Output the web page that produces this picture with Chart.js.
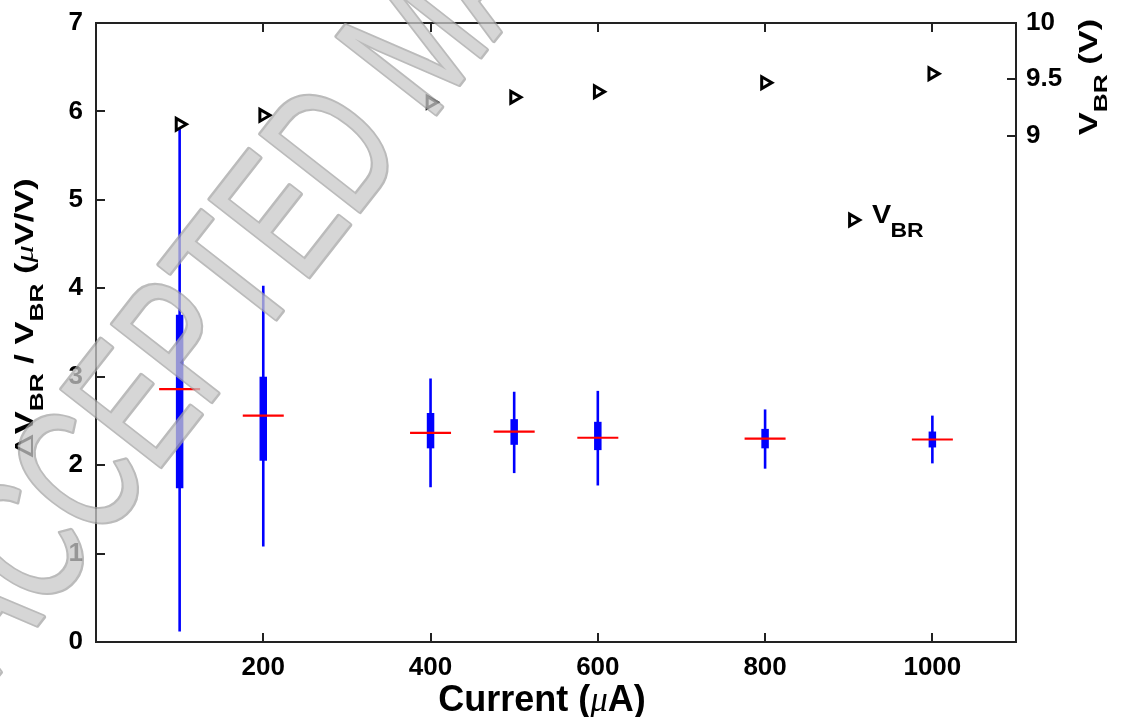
<!DOCTYPE html>
<html><head><meta charset="utf-8">
<script src="https://cdn.jsdelivr.net/npm/chart.js@4.4.1/dist/chart.umd.min.js"></script>
<style>html,body{margin:0;padding:0;background:#fff}#wrap{width:1124px;height:717px}</style>
</head><body><div id="wrap"><canvas id="c" width="1124" height="717"></canvas></div>
<script>
const currents = [100, 200, 400, 500, 600, 800, 1000];
const whiskerLow = [0.12, 1.08, 1.75, 1.91, 1.77, 1.96, 2.02];
const whiskerHigh = [5.85, 4.03, 2.98, 2.83, 2.84, 2.63, 2.56];
const boxLow = [1.74, 2.05, 2.19, 2.23, 2.17, 2.19, 2.20];
const boxHigh = [3.70, 3.00, 2.59, 2.52, 2.49, 2.41, 2.38];
const medians = [2.86, 2.56, 2.365, 2.38, 2.31, 2.30, 2.29];
const vbr = [9.10, 9.18, 9.295, 9.34, 9.39, 9.47, 9.55];
const xTicks = [200, 400, 600, 800, 1000];
const yTicks = [0, 1, 2, 3, 4, 5, 6, 7];
const y1Ticks = [9, 9.5, 10];

const FONT = '"Liberation Sans", Arial, sans-serif';
const tickFont = {family: FONT, size: 26, weight: 'bold'};

function drawRich(ctx, parts, cx, cy, rot, stretch) {
  stretch = stretch || 1;
  ctx.save();
  ctx.translate(cx, cy);
  ctx.rotate(rot);
  ctx.scale(stretch, 1);
  let total = 0;
  parts.forEach(p => { ctx.font = p.f; p.w = ctx.measureText(p.t).width; total += p.w; });
  let x = -total / 2;
  ctx.textBaseline = 'alphabetic';
  ctx.textAlign = 'left';
  ctx.fillStyle = '#000';
  parts.forEach(p => { ctx.font = p.f; ctx.fillText(p.t, x, p.dy || 0); x += p.w; });
  ctx.restore();
}

const B25 = 'bold 25px ' + FONT;
const B19 = 'bold 19px ' + FONT;
const MU = 'italic 25px "Liberation Serif", serif';

function drawWatermark(ctx) {
  const off = document.createElement('canvas');
  off.width = 1124; off.height = 717;
  const o = off.getContext('2d');
  const wm = 'ACCEPTED MANUSCRIPT';
  o.font = '183px "Liberation Sans", Arial, sans-serif';
  const th = -52 * Math.PI / 180;
  const r = [Math.cos(th), Math.sin(th)];
  const up = [Math.sin(th), -Math.cos(th)];
  const w = s => o.measureText(s).width;
  const c2 = w('AC') + w('C') / 2;
  const c7 = w('ACCEPTE') + w('D') / 2;
  const sx = 413 / (c7 - c2);
  const capH = 131;
  const ox = 75 - sx * c2 * r[0] - capH / 2 * up[0];
  const oy = 470 - sx * c2 * r[1] - capH / 2 * up[1];
  o.translate(ox, oy);
  o.rotate(th);
  o.scale(sx, 1);
  o.lineJoin = 'round';
  o.strokeStyle = '#a4a4a4';
  o.lineWidth = 5;
  o.strokeText(wm, 0, 0);
  o.fillStyle = '#c8c8c8';
  o.fillText(wm, 0, 0);
  ctx.save();
  ctx.globalAlpha = 0.75;
  ctx.drawImage(off, 0, 0);
  ctx.restore();
}

const framePlugin = {
  id: 'frame',
  beforeDatasetsDraw(chart) {
    const {ctx, chartArea: a, scales} = chart;
    ctx.save();
    ctx.strokeStyle = '#222';
    ctx.lineWidth = 2;
    ctx.strokeRect(a.left, a.top, a.right - a.left, a.bottom - a.top);
    const L = 9;
    ctx.beginPath();
    xTicks.forEach(v => {
      const px = Math.round(scales.x.getPixelForValue(v));
      ctx.moveTo(px, a.bottom); ctx.lineTo(px, a.bottom - L);
      ctx.moveTo(px, a.top); ctx.lineTo(px, a.top + L);
    });
    yTicks.forEach(v => {
      const py = Math.round(scales.y.getPixelForValue(v));
      ctx.moveTo(a.left, py); ctx.lineTo(a.left + L, py);
    });
    y1Ticks.forEach(v => {
      const py = Math.round(scales.y1.getPixelForValue(v));
      ctx.moveTo(a.right, py); ctx.lineTo(a.right - L, py);
    });
    ctx.stroke();
    ctx.restore();
  },
  afterDraw(chart) {
    const {ctx} = chart;
    drawRich(ctx, [
      {t: 'Current (', f: 'bold 36px ' + FONT},
      {t: 'μ', f: 'italic 35px "Liberation Serif", serif'},
      {t: 'A)', f: 'bold 36px ' + FONT}
    ], 542, 711, 0);
    drawRich(ctx, [
      {t: 'Δ', f: '25px "DejaVu Sans", sans-serif'},
      {t: 'V', f: B25},
      {t: 'BR', f: B19, dy: 10},
      {t: ' / V', f: B25},
      {t: 'BR', f: B19, dy: 10},
      {t: ' (', f: B25},
      {t: 'μ', f: MU},
      {t: 'V/V)', f: B25}
    ], 33, 318, -Math.PI / 2, 1.38);
    drawRich(ctx, [
      {t: 'V', f: B25},
      {t: 'BR', f: B19, dy: 10},
      {t: ' (V)', f: B25}
    ], 1097, 77, -Math.PI / 2, 1.38);
    const lx = 853, ly = 220;
    ctx.save();
    ctx.fillStyle = '#fff';
    ctx.strokeStyle = '#000';
    ctx.lineWidth = 3;
    Chart.helpers.drawPoint(ctx, {pointStyle: 'triangle', rotation: 90, radius: 6.8, borderWidth: 3}, lx, ly);
    ctx.restore();
    ctx.save();
    ctx.fillStyle = '#000';
    ctx.textBaseline = 'alphabetic';
    ctx.translate(872, 223);
    ctx.scale(1.15, 1);
    ctx.font = 'bold 25px ' + FONT;
    ctx.fillText('V', 0, 0);
    ctx.font = 'bold 20px ' + FONT;
    ctx.fillText('BR', 16, 14);
    ctx.restore();
    drawWatermark(ctx);
  }
};

const whiskerData = currents.map((c, i) => ({x: c, y: [whiskerLow[i], whiskerHigh[i]]}));
const boxData = currents.map((c, i) => ({x: c, y: [boxLow[i], boxHigh[i]]}));
const medData = currents.map((c, i) => ({x: c, y: medians[i]}));
const vbrData = currents.map((c, i) => ({x: c, y: vbr[i]}));

const zeroPad = s => { s.paddingTop = 0; s.paddingBottom = 0; s.paddingLeft = 0; s.paddingRight = 0; };

new Chart(document.getElementById('c'), {
  type: 'bar',
  data: {
    datasets: [
      {label: 'whisker', data: whiskerData, backgroundColor: '#0000ff', borderWidth: 0, grouped: false, maxBarThickness: 2.6, order: 4, yAxisID: 'y'},
      {label: 'box', data: boxData, backgroundColor: '#0000ff', borderWidth: 0, grouped: false, maxBarThickness: 7.5, order: 3, yAxisID: 'y'},
      {type: 'scatter', label: 'median', data: medData, pointStyle: 'line', radius: 20.5, borderWidth: 2.2, borderColor: '#ff0000', backgroundColor: '#ff0000', order: 2, yAxisID: 'y'},
      {type: 'scatter', label: 'VBR', data: vbrData, pointStyle: 'triangle', rotation: 90, radius: 6.8, borderWidth: 3, borderColor: '#000', backgroundColor: '#fff', order: 1, yAxisID: 'y1'}
    ]
  },
  options: {
    responsive: false,
    animation: false,
    devicePixelRatio: 1,
    events: [],
    layout: {padding: {top: 23, left: 0, right: 0, bottom: 0}},
    plugins: {legend: {display: false}, tooltip: {enabled: false}},
    scales: {
      x: {
        type: 'linear', min: 0, max: 1100, offset: false,
        afterBuildTicks: s => { s.ticks = xTicks.map(v => ({value: v})); },
        afterFit: s => { s.height = 75; zeroPad(s); },
        grid: {display: false, drawTicks: false, offset: false},
        border: {display: false},
        ticks: {font: tickFont, color: '#000', padding: 10, maxRotation: 0, autoSkip: false, callback: v => String(v)}
      },
      y: {
        type: 'linear', position: 'left', min: 0, max: 7,
        afterBuildTicks: s => { s.ticks = yTicks.map(v => ({value: v})); },
        afterFit: s => { s.width = 96; zeroPad(s); },
        grid: {display: false, drawTicks: false},
        border: {display: false},
        ticks: {font: tickFont, color: '#000', padding: 13}
      },
      y1: {
        type: 'linear', position: 'right', min: 4.5, max: 10,
        afterBuildTicks: s => { s.ticks = y1Ticks.map(v => ({value: v})); },
        afterFit: s => { s.width = 108; zeroPad(s); },
        grid: {display: false, drawTicks: false},
        border: {display: false},
        ticks: {font: tickFont, color: '#000', padding: 10, callback: v => String(v)}
      }
    }
  },
  plugins: [framePlugin]
});
</script>
</body></html>
